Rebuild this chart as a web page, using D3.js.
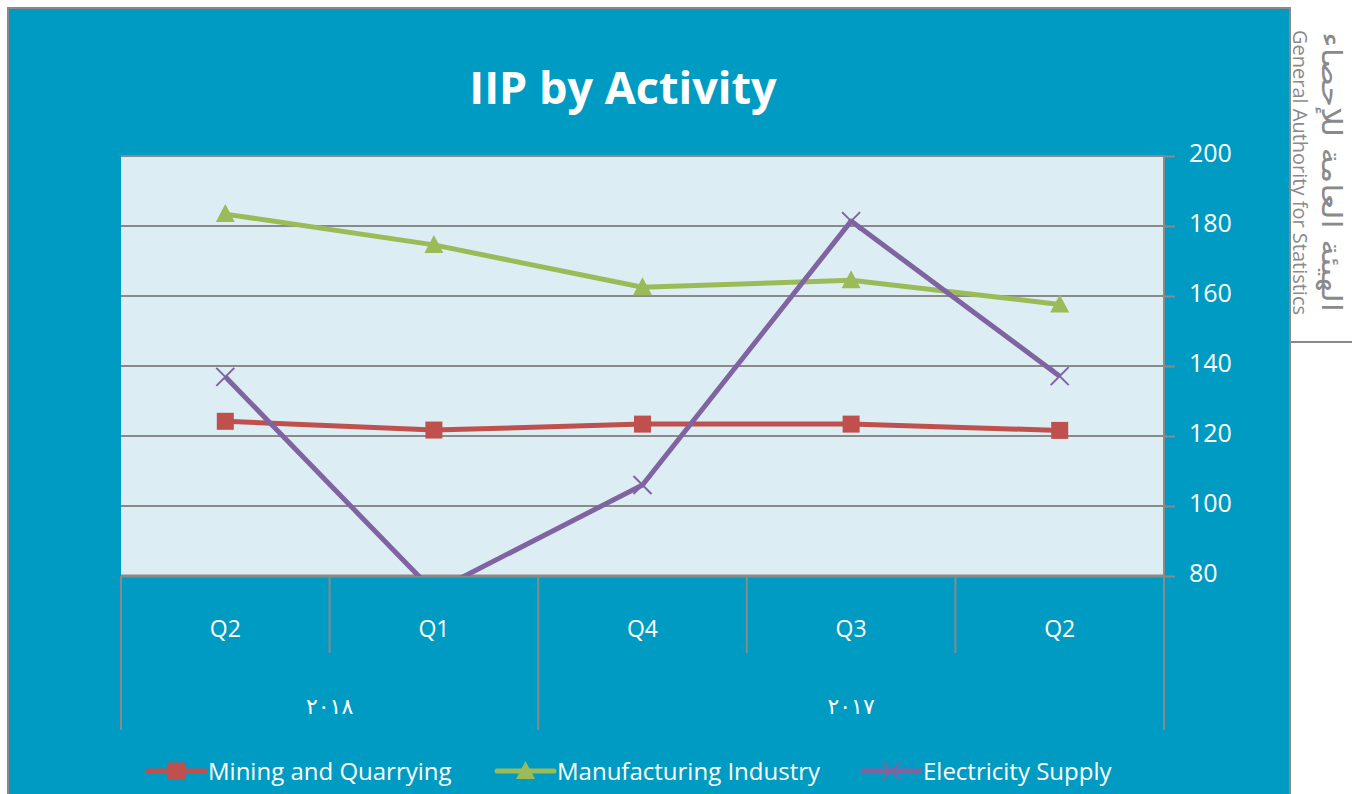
<!DOCTYPE html>
<html>
<head>
<meta charset="utf-8">
<script src="https://cdn.jsdelivr.net/npm/d3@7"></script>
<style>
  body { margin: 0; background: #ffffff; }
  svg { display: block; }
</style>
</head>
<body>
<svg width="1352" height="794"></svg>
<script>
// data (right-to-left time axis)
const categories = ["2018-Q2", "2018-Q1", "2017-Q4", "2017-Q3", "2017-Q2"];
const quarterLabels = ["Q2", "Q1", "Q4", "Q3", "Q2"];
const yearLabels = ["٢٠١٨", "٢٠١٧"];
const yearSpans = [2, 3];
const mining = [124.2, 121.7, 123.4, 123.4, 121.6];
const manufacturing = [183.4, 174.6, 162.5, 164.5, 157.6];
const electricity = [136.9, 75.5, 106.0, 181.4, 137.1];
const yTicks = [80, 100, 120, 140, 160, 180, 200];
const seriesNames = ["Mining and Quarrying", "Manufacturing Industry", "Electricity Supply"];

const bgBlue = "#009bc2";
const gridGray = "#8a8a8a";
const colors = ["#c0504d", "#9bbb59", "#8064a2"];
const font = "'Open Sans', sans-serif";

const svg = d3.select("svg");

let plotLeft = 121, plotRight = 1164, plotTop = 156, plotBottom = 576;

// outer frame
svg.append("rect")
    .attr("x", 8).attr("y", 8)
    .attr("width", 1282).attr("height", 800)
    .attr("fill", bgBlue)
    .attr("stroke", gridGray)
    .attr("stroke-width", 2);

// side branding
svg.append("line")
    .attr("x1", 1290).attr("x2", 1352)
    .attr("y1", 342).attr("y2", 342)
    .attr("stroke", gridGray).attr("stroke-width", 2);

svg.append("text")
    .attr("transform", "translate(1293, 30) rotate(90)")
    .attr("font-family", font)
    .attr("font-size", "20px")
    .attr("fill", "#8a8a8a")
    .attr("textLength", 285)
    .attr("lengthAdjust", "spacingAndGlyphs")
    .text("General Authority for Statistics");

svg.append("text")
    .attr("transform", "translate(1322, 172) rotate(90)")
    .attr("font-family", "'DejaVu Sans', sans-serif")
    .attr("font-size", "27px")
    .attr("fill", "#8a8a8a")
    .attr("text-anchor", "middle")
    .attr("textLength", 280)
    .attr("lengthAdjust", "spacingAndGlyphs")
    .text("الهيئة العامة للإحصاء");

// title
svg.append("text")
    .attr("x", 623)
    .attr("y", 104)
    .attr("text-anchor", "middle")
    .attr("font-family", font)
    .attr("font-size", "45px")
    .attr("font-weight", "bold")
    .attr("fill", "white")
    .text("IIP by Activity");

// scales
const x = d3.scaleBand()
    .domain(categories)
    .range([plotLeft, plotRight])
    .padding(0);

const y = d3.scaleLinear()
    .domain([80, 200])
    .range([plotBottom, plotTop]);

// plot area
svg.append("rect")
    .attr("x", plotLeft).attr("y", plotTop)
    .attr("width", plotRight - plotLeft)
    .attr("height", plotBottom - plotTop)
    .attr("fill", "#dcedf3");

// gridlines
svg.append("g")
    .selectAll("line")
    .data(yTicks)
    .enter().append("line")
    .attr("x1", plotLeft).attr("x2", plotRight)
    .attr("y1", d => y(d)).attr("y2", d => y(d))
    .attr("stroke", gridGray)
    .attr("stroke-width", d => d === 80 ? 3 : 2);

// right value axis
const yAxisCall = d3.axisRight(y)
    .tickValues(yTicks)
    .tickSize(11)
    .tickPadding(14);
const yAxis = svg.append("g")
    .attr("transform", `translate(${plotRight}, 0)`)
    .call(yAxisCall);
yAxis.select(".domain")
    .attr("stroke", gridGray).attr("stroke-width", 2)
    .attr("d", `M0,${plotTop}V${plotBottom + 8}`);
yAxis.selectAll(".tick line").attr("stroke", gridGray).attr("stroke-width", 2);
yAxis.selectAll(".tick text")
    .attr("font-family", font)
    .attr("font-size", "25px")
    .attr("fill", "white")
    .attr("dy", "0.22em");

// multi-level category axis
const catAxis = svg.append("g");
const bounds = categories.map(c => x(c)).concat([plotRight]);

let yearBounds = [0];
yearSpans.forEach(s => yearBounds.push(yearBounds[yearBounds.length - 1] + s));

catAxis.selectAll(".qsep")
    .data(bounds.map((b, i) => i))
    .enter().append("line")
    .attr("x1", i => bounds[i]).attr("x2", i => bounds[i])
    .attr("y1", plotBottom)
    .attr("y2", i => yearBounds.includes(i) ? 730 : 653)
    .attr("stroke", gridGray).attr("stroke-width", 2);

catAxis.selectAll(".qlabel")
    .data(categories)
    .enter().append("text")
    .attr("x", d => x(d) + x.bandwidth() / 2)
    .attr("y", 637)
    .attr("text-anchor", "middle")
    .attr("font-family", font)
    .attr("font-size", "23px")
    .attr("fill", "white")
    .text((d, i) => quarterLabels[i]);

catAxis.selectAll(".ylabel")
    .data(yearLabels)
    .enter().append("text")
    .attr("x", (d, i) => (bounds[yearBounds[i]] + bounds[yearBounds[i + 1]]) / 2)
    .attr("y", 714)
    .attr("text-anchor", "middle")
    .attr("font-family", "'DejaVu Sans', sans-serif")
    .attr("font-size", "22px")
    .attr("fill", "white")
    .text(d => d);

// series
svg.append("clipPath").attr("id", "plotClip")
    .append("rect")
    .attr("x", plotLeft).attr("y", plotTop - 20)
    .attr("width", plotRight - plotLeft)
    .attr("height", plotBottom - plotTop + 20);

const allSeries = [mining, manufacturing, electricity];
const cx = i => x(categories[i]) + x.bandwidth() / 2;

const line = d3.line()
    .x((d, i) => cx(i))
    .y(d => y(d));

function drawMarker(g, type, color) {
    if (type === 0) {
        g.append("rect")
            .attr("x", -8.5).attr("y", -8.5)
            .attr("width", 17).attr("height", 17)
            .attr("fill", color);
    } else if (type === 1) {
        g.append("path")
            .attr("d", "M0,-10L9.5,8L-9.5,8Z")
            .attr("fill", color);
    } else {
        g.append("path")
            .attr("d", "M-9,-9L9,9M-9,9L9,-9")
            .attr("stroke", color)
            .attr("stroke-width", 2)
            .attr("fill", "none");
    }
}

const seriesG = svg.append("g").attr("clip-path", "url(#plotClip)");
allSeries.forEach((vals, s) => {
    seriesG.append("path")
        .datum(vals)
        .attr("d", line)
        .attr("fill", "none")
        .attr("stroke", colors[s])
        .attr("stroke-width", 5)
        .attr("stroke-linejoin", "round");
});
allSeries.forEach((vals, s) => {
    vals.forEach((v, i) => {
        const g = seriesG.append("g")
            .attr("transform", `translate(${cx(i)}, ${y(v)})`);
        drawMarker(g, s, colors[s]);
    });
});

// legend
const legendX = [148, 497, 863];
const legend = svg.append("g").attr("transform", "translate(0, 771)");
seriesNames.forEach((name, s) => {
    const item = legend.append("g").attr("transform", `translate(${legendX[s]}, 0)`);
    item.append("line")
        .attr("x1", 0).attr("x2", 57)
        .attr("stroke", colors[s]).attr("stroke-width", 5)
        .attr("stroke-linecap", "round");
    drawMarker(item.append("g").attr("transform", "translate(28.5, 0)"), s, colors[s]);
    item.append("text")
        .attr("x", 60)
        .attr("y", 9)
        .attr("font-family", font)
        .attr("font-size", "24px")
        .attr("fill", "white")
        .text(name);
});
</script>
</body>
</html>
